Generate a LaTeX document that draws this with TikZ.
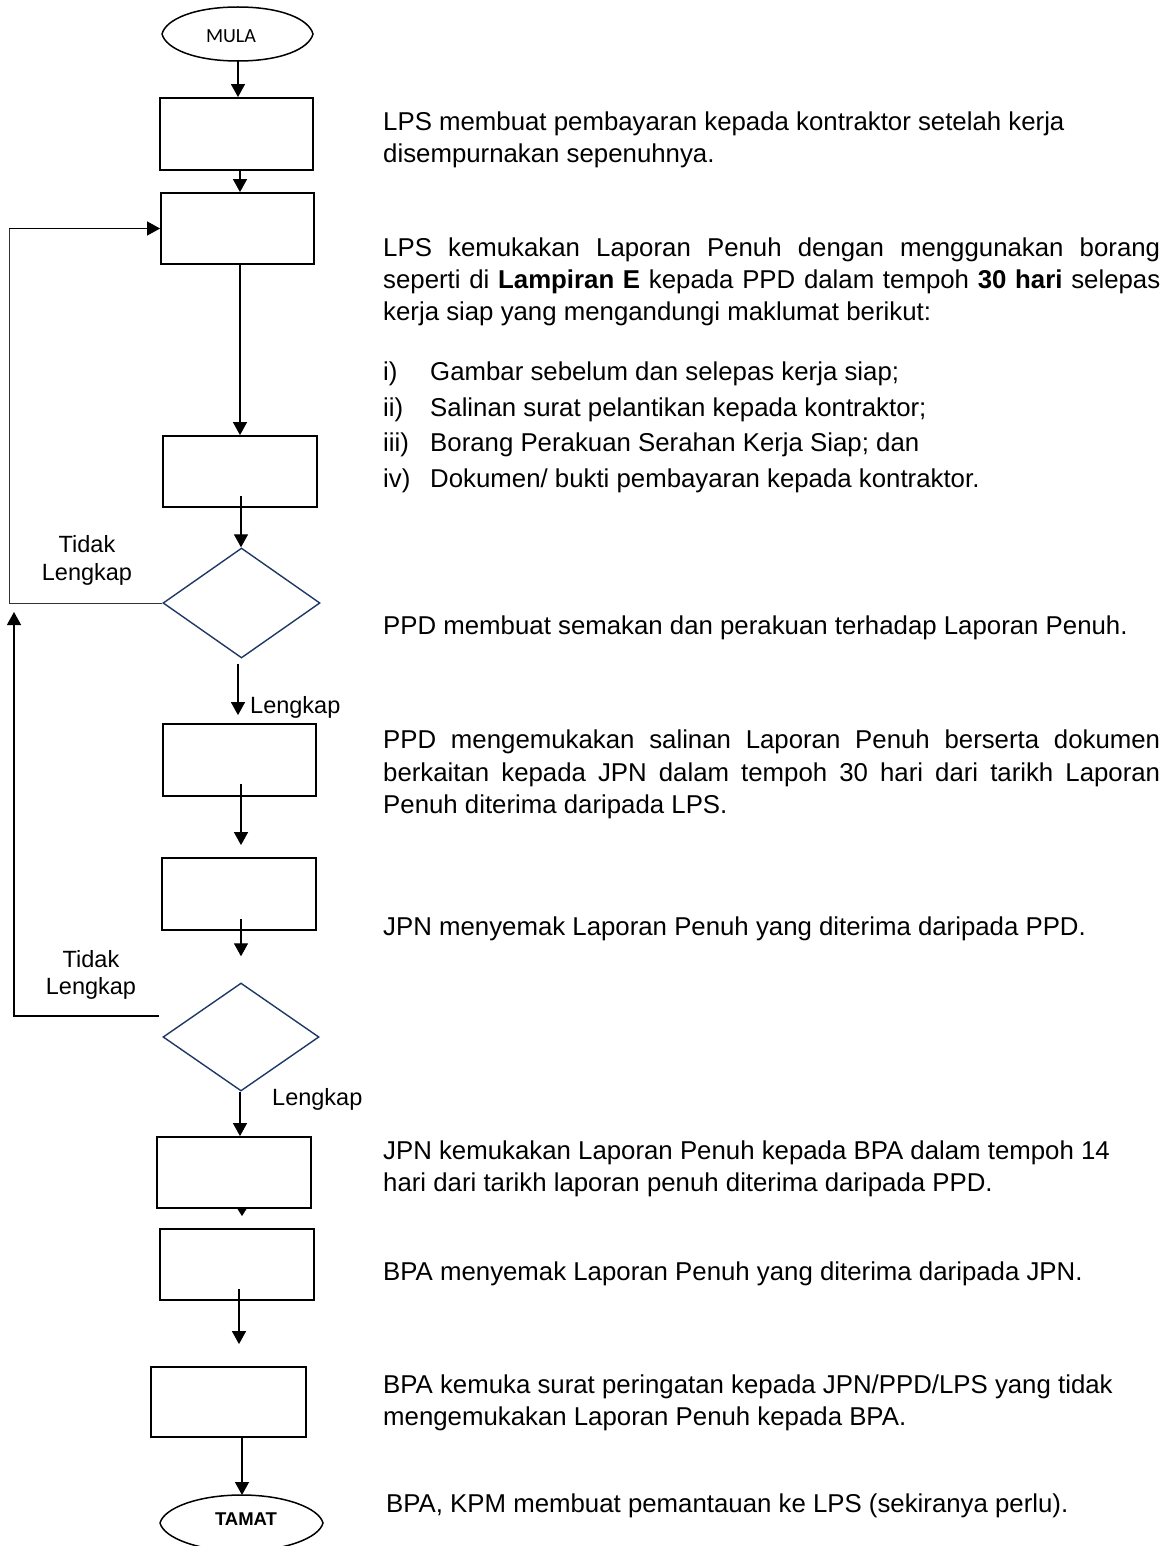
\documentclass[tikz,border=0pt]{standalone}
\usepackage{fontspec}
\setmainfont{Liberation Sans}
\newfontfamily\calfont{Carlito}
\usetikzlibrary{arrows.meta,shapes.geometric,calc}
\definecolor{navy}{HTML}{203864}
\begin{document}
\begin{tikzpicture}[x=1pt,y=-1pt,
  box/.style={draw=black,line width=1.8pt,rectangle,inner sep=0pt},
  dia/.style={draw=navy,line width=1.4pt,diamond,inner sep=0pt},
  term/.style={draw=black,line width=1.5pt},
  flow/.style={line width=1.3pt,-{Triangle[length=13pt,width=14pt]}},
  smallflow/.style={line width=1.3pt,-{Triangle[length=9pt,width=11pt]}},
  loopline/.style={draw=black!80,line width=1pt},
  desc/.style={anchor=base west,inner sep=0pt,font=\fontsize{25.8}{31}\selectfont},
  lbl/.style={inner sep=0pt,font=\fontsize{23.5}{27.5}\selectfont,align=center},
]
\useasboundingbox (0,0) rectangle (1164,1546);

% ---------- terminals ----------
\draw[term] (162,34) .. controls (166,19) and (195,7) .. (238,7)
  .. controls (281,7) and (309,19) .. (313,34)
  .. controls (309,49) and (281,61) .. (238,61)
  .. controls (195,61) and (166,49) .. (162,34);
\node[anchor=base,inner sep=0pt,font=\calfont\fontsize{20}{24}\selectfont] (mula) at (231,43) {MULA};
\coordinate (mulaS) at (238,61);

\draw[term] (160,1523) .. controls (164,1508) and (198,1495) .. (241.5,1495)
  .. controls (285,1495) and (319,1508) .. (323,1523)
  .. controls (319,1538) and (285,1551) .. (241.5,1551)
  .. controls (198,1551) and (164,1538) .. (160,1523);
\node[anchor=base,inner sep=0pt,font=\bfseries\fontsize{18.5}{22}\selectfont] (tamat) at (246,1525) {TAMAT};
\coordinate (tamatN) at (241,1495);

% ---------- boxes ----------
\node[box,minimum width=153pt,minimum height=72pt] (b1) at (236.5,134) {};
\node[box,minimum width=153pt,minimum height=71pt] (b2) at (237.5,228.5) {};
\node[box,minimum width=154pt,minimum height=71pt] (b3) at (240,471.5) {};
\node[box,minimum width=153pt,minimum height=72pt] (b4) at (239.5,760) {};
\node[box,minimum width=154pt,minimum height=72pt] (b5) at (239,894) {};
\node[box,minimum width=154pt,minimum height=71pt] (b6) at (234,1172.5) {};
\node[box,minimum width=154pt,minimum height=71pt] (b7) at (237,1264.5) {};
\node[box,minimum width=155pt,minimum height=70pt] (b8) at (228.5,1402) {};

% ---------- decisions ----------
\node[dia,minimum width=157pt,minimum height=110pt] (d1) at (241.5,603) {};
\node[dia,minimum width=156pt,minimum height=108pt] (d2) at (241,1037) {};

% ---------- connectors ----------
\coordinate (ax) at (240,0);
\draw[flow] (mulaS) -- (mulaS |- b1.north);
\draw[flow] (ax |- b1.south) -- (ax |- b2.north);
\draw[flow] (ax |- b2.south) -- (ax |- b3.north);
\draw[flow] ($(ax |- b3.south)+(1,-12)$) -- ($(ax |- d1.north)+(1,0)$);
\draw[flow] ($(ax |- d1.south)+(-2,5)$) -- ($(ax |- b4.north)+(-2,-8)$);
\draw[flow] ($(ax |- b4.south)+(1,-13)$) -- ($(ax |- b5.north)+(1,-12)$);
\draw[flow] ($(ax |- b5.south)+(1,-12)$) -- ($(ax |- d2.north)+(1,-26)$);
\draw[flow] (ax |- d2.south) -- (ax |- b6.north);
\draw[smallflow] ($(ax |- b6.south)+(2,0)$) -- ($(ax |- b7.north)+(2,-12)$);
\draw[flow] ($(ax |- b7.south)+(-1,-12)$) -- ($(ax |- b8.north)+(-1,-22)$);
\draw[flow] ($(ax |- b8.south)+(2,0)$) -- ($(ax |- tamatN)+(2,0)$);

% loop 1
\coordinate (lx1) at (9,0);
\draw[loopline] (d1.west) -- (lx1 |- d1.west) -- (lx1 |- b2.west);
\draw[line width=1pt,-{Triangle[length=13pt,width=14pt]}] (lx1 |- b2.west) -- (b2.west);
% loop 2
\coordinate (l2s) at (159,1016);
\coordinate (l2e) at (14,612);
\draw[flow] (l2s) -- (l2e |- l2s) -- (l2e);

% ---------- labels ----------
\node[lbl] (tl1) at (87,560.5) {Tidak\\Lengkap};
\node[lbl] (tl2) at (91,975) {Tidak\\Lengkap};
\node[lbl,anchor=base west] (lk1) at (250,713) {Lengkap};
\node[lbl,anchor=base west] (lk2) at (272,1105) {Lengkap};

% ---------- descriptions ----------
\node[desc] (t1a) at (383,131) {LPS membuat pembayaran kepada kontraktor setelah kerja};
\node[desc] (t1b) at (383,163) {disempurnakan sepenuhnya.};

\node[desc] (t2a) at (383,256) {\makebox[777pt][s]{LPS kemukakan Laporan Penuh dengan menggunakan borang}};
\node[desc] (t2b) at (383,288) {\makebox[777pt][s]{seperti di \textbf{Lampiran E} kepada PPD dalam tempoh \textbf{30 hari} selepas}};
\node[desc] (t2c) at (383,320) {kerja siap yang mengandungi maklumat berikut:};

\node[desc] (l1n) at (383,380) {i)};
\node[desc] (l1t) at (430,380) {Gambar sebelum dan selepas kerja siap;};
\node[desc] (l2n) at (383,416) {ii)};
\node[desc] (l2t) at (430,416) {Salinan surat pelantikan kepada kontraktor;};
\node[desc] (l3n) at (383,451) {iii)};
\node[desc] (l3t) at (430,451) {Borang Perakuan Serahan Kerja Siap; dan};
\node[desc] (l4n) at (383,487) {iv)};
\node[desc] (l4t) at (430,487) {Dokumen/ bukti pembayaran kepada kontraktor.};

\node[desc] (t3) at (383,634) {PPD membuat semakan dan perakuan terhadap Laporan Penuh.};

\node[desc] (t4a) at (383,748) {\makebox[777pt][s]{PPD mengemukakan salinan Laporan Penuh berserta dokumen}};
\node[desc] (t4b) at (383,781) {\makebox[777pt][s]{berkaitan kepada JPN dalam tempoh 30 hari dari tarikh Laporan}};
\node[desc] (t4c) at (383,813) {Penuh diterima daripada LPS.};

\node[desc] (t5) at (383,935) {JPN menyemak Laporan Penuh yang diterima daripada PPD.};

\node[desc] (t6a) at (383,1159) {JPN kemukakan Laporan Penuh kepada BPA dalam tempoh 14};
\node[desc] (t6b) at (383,1191) {hari dari tarikh laporan penuh diterima daripada PPD.};

\node[desc] (t7) at (383,1280) {BPA menyemak Laporan Penuh yang diterima daripada JPN.};

\node[desc] (t8a) at (383,1393) {BPA kemuka surat peringatan kepada JPN/PPD/LPS yang tidak};
\node[desc] (t8b) at (383,1425) {mengemukakan Laporan Penuh kepada BPA.};

\node[desc] (t9) at (386,1512) {BPA, KPM membuat pemantauan ke LPS (sekiranya perlu).};
\end{tikzpicture}
\end{document}
